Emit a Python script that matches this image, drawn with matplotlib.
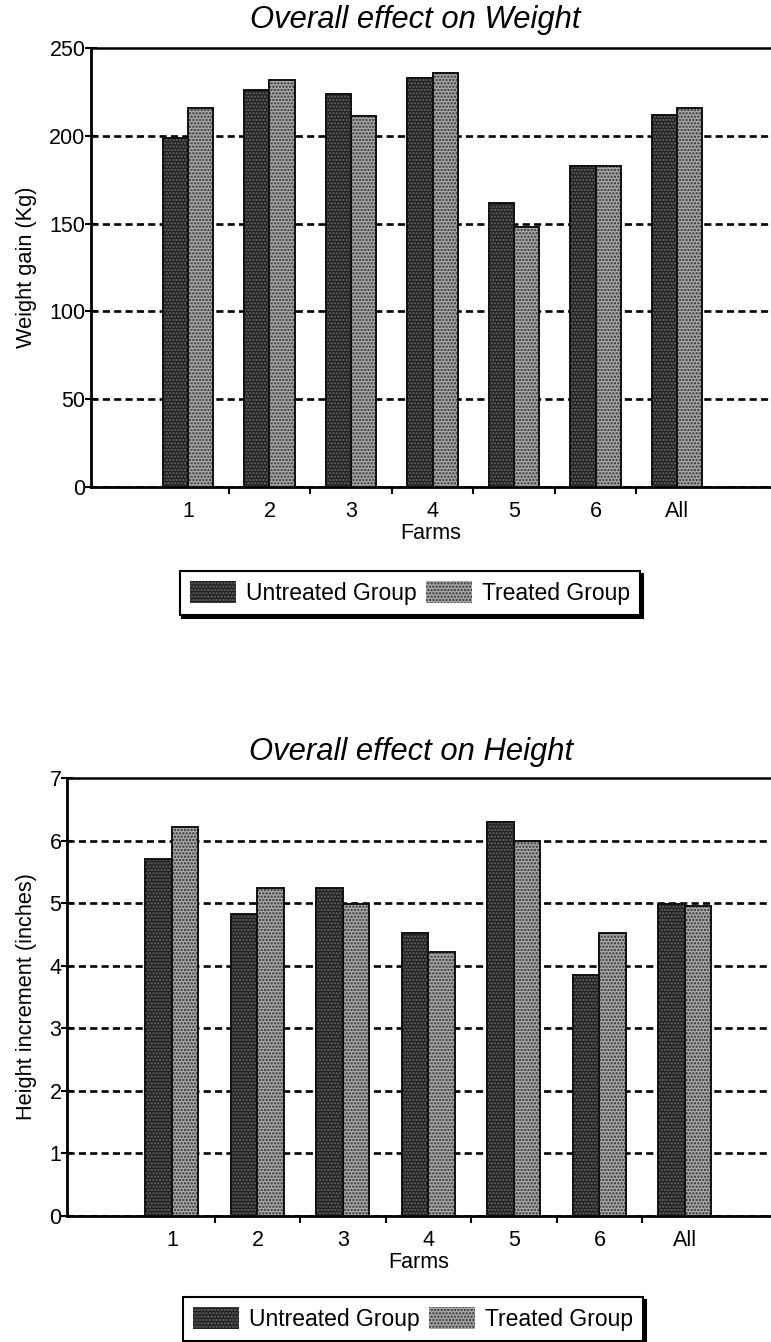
import matplotlib
matplotlib.use('Agg')
import matplotlib.pyplot as plt
import numpy as np
from matplotlib.patches import Patch

plt.rcParams['font.family'] = ['Liberation Sans', 'DejaVu Sans']
plt.rcParams['hatch.linewidth'] = 1.1

# Data
farms = ['1', '2', '3', '4', '5', '6', 'All']
weight_untreated = [199, 226, 224, 233, 162, 183, 212]
weight_treated = [216, 232, 211, 236, 148, 183, 216]
height_untreated = [5.71, 4.82, 5.25, 4.52, 6.30, 3.85, 4.99]
height_treated = [6.22, 5.25, 4.99, 4.22, 6.00, 4.52, 4.95]

labels = ['Untreated Group', 'Treated Group']

# Styles (hatch drawn in the edge colour)
untreated_style = dict(facecolor='#222222', edgecolor='#666666', hatch='.....')
treated_style = dict(facecolor='#a8a8a8', edgecolor='#2e2e2e', hatch='.....')
outline = '#111111'
bar_w = 0.31

W, H = 771, 1342
fig = plt.figure(figsize=(W / 100, H / 100), dpi=100)


def draw_chart(ax, untreated, treated, ymax, ystep, ylabel, xlim):
    x = np.arange(len(farms))
    # filled bars, then outline on top
    ax.bar(x - bar_w, untreated, bar_w, align='edge', linewidth=0, zorder=2, **untreated_style)
    ax.bar(x, treated, bar_w, align='edge', linewidth=0, zorder=2, **treated_style)
    ax.bar(x - bar_w, untreated, bar_w, align='edge', fill=False,
           edgecolor=outline, linewidth=1.4, zorder=3)
    ax.bar(x, treated, bar_w, align='edge', fill=False,
           edgecolor=outline, linewidth=1.4, zorder=3)

    ax.set_xlim(*xlim)
    ax.set_ylim(0, ymax)
    ax.set_yticks(np.arange(0, ymax + ystep / 2, ystep))
    ax.set_xticks(x)
    ax.set_xticklabels(farms, fontsize=15.5)
    ax.set_xticks(x[:-1] + 0.5, minor=True)
    ax.tick_params(axis='x', which='major', length=0, pad=10)
    ax.tick_params(axis='x', which='minor', length=5, width=1.5, direction='out')
    ax.tick_params(axis='y', length=8, width=1.5, pad=0, labelsize=15.5,
                   direction='inout')
    ax.set_xlabel('Farms', fontsize=15.5, labelpad=1)
    ax.set_ylabel(ylabel, fontsize=15.7)
    pos = ax.get_position()
    ax.yaxis.set_label_coords(-(pos.x0 * W - 37) / (pos.width * W), 0.5)

    # dashed grid behind the bars, none at the top spine
    ax.set_axisbelow(True)
    ax.yaxis.grid(True, color='black', linewidth=1.9, linestyle=(0, (2.7, 1.6)))
    ax.yaxis.get_major_ticks()[-1].gridline.set_visible(False)

    ax.spines['right'].set_visible(False)
    for s in ['left', 'bottom']:
        ax.spines[s].set_linewidth(2.0)
    ax.spines['top'].set_linewidth(1.8)


def add_legend(cx, cy):
    handles = [Patch(**untreated_style, label=labels[0]),
               Patch(**treated_style, label=labels[1])]
    for h in handles:
        h.set_linewidth(0)
    leg = fig.legend(handles=handles, loc='center', ncol=2,
                     bbox_to_anchor=(cx / W, 1 - cy / H),
                     bbox_transform=fig.transFigure,
                     fontsize=16.5, frameon=True, fancybox=False,
                     shadow={'color': 'black', 'alpha': 1},
                     handlelength=2.0, handleheight=1.1,
                     handletextpad=0.45, columnspacing=0.4,
                     borderpad=0.45)
    leg.get_frame().set_edgecolor('black')
    leg.get_frame().set_linewidth(1.5)


# Weight chart
ax1 = fig.add_axes([91 / W, 1 - 487 / H, 680 / W, 439 / H])
draw_chart(ax1, weight_untreated, weight_treated, 250, 50,
           'Weight gain (Kg)', (-1.19, 7.153))
fig.text(415 / W, 1 - 28 / H, 'Overall effect on Weight', fontsize=22.3,
         style='italic', ha='center', va='baseline')
add_legend(410, 593)

# Height chart
ax2 = fig.add_axes([67 / W, 1 - 1216 / H, 704 / W, 438 / H])
draw_chart(ax2, height_untreated, height_treated, 7, 1,
           'Height increment (inches)', (-1.228, 7.006))
fig.text(411 / W, 1 - 760 / H, 'Overall effect on Height', fontsize=22.3,
         style='italic', ha='center', va='baseline')
add_legend(413, 1319)

fig.savefig('out.png', dpi=100)
